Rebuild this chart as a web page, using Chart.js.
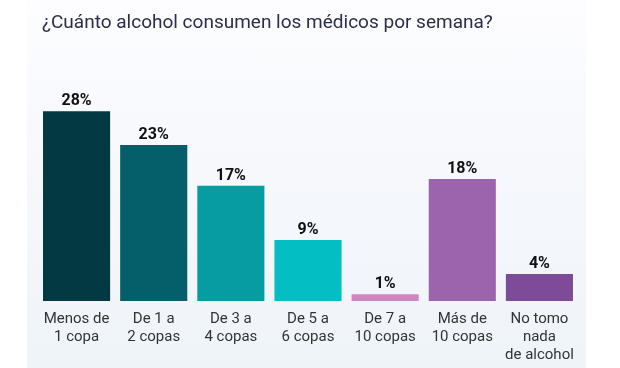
<!DOCTYPE html>
<html>
<head>
<meta charset="utf-8">
<script src="https://cdn.jsdelivr.net/npm/chart.js@4"></script>
<style>
  html, body { margin: 0; padding: 0; background: #ffffff; }
  #wrap { position: relative; width: 620px; height: 368px; }
  #panel {
    position: absolute; left: 27px; top: 0; width: 559px; height: 368px;
    background: linear-gradient(to bottom, #fdfdff 0%, #f6f8fc 45%, #eff4f9 100%);
  }
  canvas { position: absolute; left: 0; top: 0; }
</style>
</head>
<body>
<div id="wrap">
  <div id="panel"></div>
  <canvas id="chart" width="620" height="368"></canvas>
</div>
<script>
    // Data
    const titleText = '¿Cuánto alcohol consumen los médicos por semana?';
    const categories = [
        ['Menos de', '1 copa'],
        ['De 1 a', '2 copas'],
        ['De 3 a', '4 copas'],
        ['De 5 a', '6 copas'],
        ['De 7 a', '10 copas'],
        ['Más de', '10 copas'],
        ['No tomo', 'nada', 'de alcohol']
    ];
    const percentages = [28, 23, 17, 9, 1, 18, 4];
    const barColors = ['#033943', '#045f6a', '#069ca2', '#03bfc3', '#cf86c1', '#9d64ae', '#7d4b98'];

    // Title drawn at a fixed spot, left of the plot area
    const titleLine = {
        id: 'titleLine',
        afterDraw(chart) {
            const ctx = chart.ctx;
            ctx.save();
            ctx.font = '19px Roboto';
            ctx.fillStyle = '#2b2d4b';
            ctx.textAlign = 'left';
            ctx.textBaseline = 'alphabetic';
            ctx.fillText(titleText, 42, 28);
            ctx.restore();
        }
    };

    // Draw the value above each bar
    const valueLabels = {
        id: 'valueLabels',
        afterDatasetsDraw(chart) {
            const ctx = chart.ctx;
            const meta = chart.getDatasetMeta(0);
            ctx.save();
            ctx.font = 'bold 16px Roboto';
            ctx.fillStyle = '#111111';
            ctx.textAlign = 'center';
            ctx.textBaseline = 'alphabetic';
            meta.data.forEach((bar, i) => {
                ctx.fillText(percentages[i] + '%', bar.x, bar.y - 6);
            });
            ctx.restore();
        }
    };

    const ctx = document.getElementById('chart').getContext('2d');
    new Chart(ctx, {
        type: 'bar',
        data: {
            labels: categories,
            datasets: [{
                data: percentages,
                backgroundColor: barColors,
                borderWidth: 0,
                categoryPercentage: 1.0,
                barPercentage: 0.87
            }]
        },
        options: {
            responsive: false,
            animation: false,
            layout: { padding: { left: 38, right: 42, top: 84, bottom: 3 } },
            plugins: {
                legend: { display: false },
                tooltip: { enabled: false },
                title: { display: false }
            },
            scales: {
                x: {
                    grid: { display: false },
                    border: { display: false },
                    ticks: {
                        color: '#333333',
                        font: { family: 'Roboto', size: 15, lineHeight: 1.2 },
                        padding: 1,
                        maxRotation: 0,
                        autoSkip: false
                    }
                },
                y: {
                    display: false,
                    min: 0,
                    max: 32
                }
            }
        },
        plugins: [valueLabels, titleLine]
    });
</script>
</body>
</html>
